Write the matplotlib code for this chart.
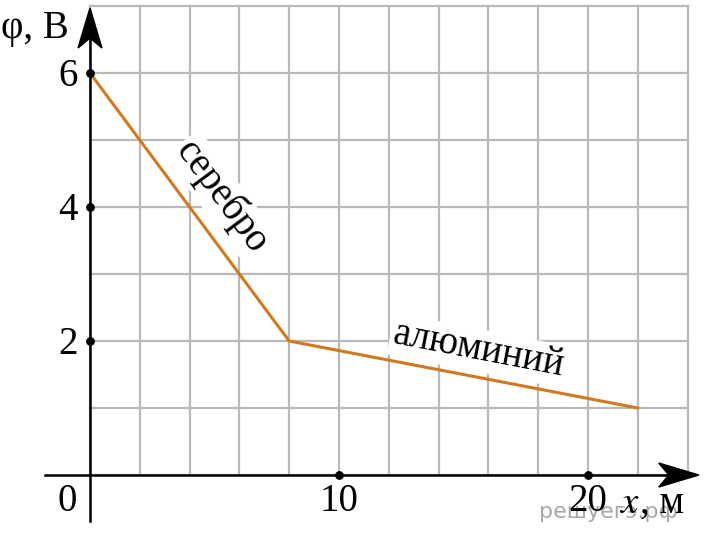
import matplotlib.pyplot as plt
from matplotlib.patches import Polygon

# Данные графика
x_pts = [0, 8, 22]
phi_pts = [6, 2, 1]
x_ticks = [10, 20]
y_ticks = [2, 4, 6]
x_grid = list(range(0, 25, 2))
y_grid = list(range(0, 8))

plt.rcParams['font.family'] = ['Liberation Serif', 'DejaVu Serif']

fig = plt.figure(figsize=(7.07, 5.38), dpi=100)
ax = fig.add_axes([0, 0, 1, 1])
ax.set_xlim(-3.614, 24.78)
ax.set_ylim(-0.94, 7.09)
ax.axis('off')

# Сетка
for gx in x_grid:
    ax.plot([gx, gx], [0, 7], color='#b9b9b9', lw=1.6, zorder=1)
for gy in y_grid:
    ax.plot([0, 24], [gy, gy], color='#b9b9b9', lw=1.6, zorder=1)

# Оси
ax.plot([-1.8, 24.2], [0, 0], color='black', lw=1.8, zorder=4)
ax.plot([0, 0], [-0.68, 6.8], color='black', lw=1.8, zorder=4)

# Наконечники стрелок (размеры в пикселях переводим в единицы данных)
ux = 1 / 24.9
uy = 1 / 67.0
tip_x = 24.45
ax.add_patch(Polygon([[tip_x, 0], [tip_x - 40 * ux, 12 * uy],
                      [tip_x - 30 * ux, 0], [tip_x - 40 * ux, -12 * uy]],
                     closed=True, color='black', zorder=5))
tip_y = 6.97
ax.add_patch(Polygon([[0, tip_y], [12 * ux, tip_y - 40 * uy],
                      [0, tip_y - 30 * uy], [-12 * ux, tip_y - 40 * uy]],
                     closed=True, color='black', zorder=5))

# Линия потенциала
ax.plot(x_pts, phi_pts, color='#d2781e', lw=2.2, zorder=3)

# Точки делений
ax.scatter([0] * len(y_ticks), y_ticks, s=28, color='black', zorder=5)
ax.scatter(x_ticks, [0] * len(x_ticks), s=28, color='black', zorder=5)

fs = 28
for yv in y_ticks:
    ax.text(-0.9, yv - 0.05, str(yv), ha='center', va='center', fontsize=fs)
for xv in x_ticks:
    ax.text(xv, -0.4, str(xv), ha='center', va='center', fontsize=fs, zorder=6)
ax.text(-0.9, -0.4, '0', ha='center', va='center', fontsize=fs)

ax.text(-2.2, 6.66, 'φ, В', ha='center', va='center', fontsize=fs)

# Водяной знак
ax.text(20.8, -0.55, 'решуегэ.рф', ha='center', va='center', fontsize=16,
        color='#a8a8a8', family='DejaVu Sans', zorder=2)

ax.text(21.65, -0.42, r'$x$', ha='center', va='center', fontsize=fs,
        math_fontfamily='stix', zorder=6)
ax.text(22.1, -0.42, ', м', ha='left', va='center', fontsize=fs, zorder=6)

# Подписи участков
box = dict(facecolor='white', edgecolor='none', pad=2)
ax.text(5.3, 4.15, 'серебро', rotation=-53.4, rotation_mode='anchor',
        ha='center', va='center', fontsize=fs, bbox=box, zorder=2)
ax.text(15.6, 1.86, 'алюминий', rotation=-10.9, rotation_mode='anchor',
        ha='center', va='center', fontsize=fs, bbox=box, zorder=2)

fig.savefig('out.png', dpi=100)
